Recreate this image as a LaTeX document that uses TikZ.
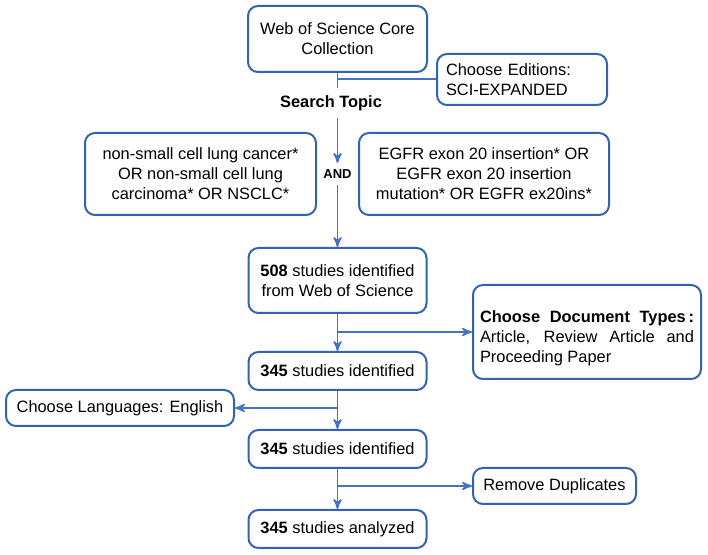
\documentclass[tikz,border=0pt]{standalone}
\usepackage{fontspec}
\setmainfont{Liberation Sans}
\usepackage{tikz}
\usetikzlibrary{arrows,positioning}
\definecolor{boxblue}{HTML}{3562AE}
\definecolor{lineblue}{HTML}{4472C4}

\begin{document}
\begin{tikzpicture}[x=0.5pt,y=-0.5pt,->,>=stealth',semithick]
	\tikzstyle{box}=[rectangle, rounded corners=5pt, draw=boxblue, line width=1pt, fill=white, text=black, inner sep=0pt, align=center, font=\fontsize{8.2}{10}\selectfont]
	\tikzstyle{every edge}=[draw=lineblue, line width=0.8pt]
	\useasboundingbox (0,0) rectangle (708,555);
	
	\node[box, minimum width=89.5pt, minimum height=33pt] (1) at (337.5,39) {Web of Science Core\\Collection};
	\node[box, minimum height=25.5pt, text width=76pt, inner xsep=4.5pt, align=left] (2) at (522,79.5) {Choose Editions:\\SCI-EXPANDED};
	\node[box, minimum width=115.5pt, minimum height=41pt] (4) at (200.5,174) {non-small cell lung cancer*\\OR non-small cell lung\\carcinoma* OR NSCLC*};
	\node[font=\fontsize{6.5}{8}\selectfont\bfseries, inner sep=3pt] (5) at (337.5,174) {AND};
	\node[box, minimum width=125pt, minimum height=41pt] (6) at (484,174) {EGFR exon 20 insertion* OR\\EGFR exon 20 insertion\\mutation* OR EGFR ex20ins*};
	\node[box, minimum width=89pt, minimum height=32.5pt] (7) at (337.5,280.5) {\textbf{508} studies identified\\from Web of Science};
	\node[box, minimum height=47pt, text width=107pt, inner xsep=3.5pt, align=justify] (8) at (587,332) {\rule{0pt}{12pt}\textbf{Choose Document Types\,:}\linebreak Article, Review Article and\linebreak Proceeding Paper};
	\node[box, minimum width=89pt, minimum height=19pt] (9) at (337.5,371) {\textbf{345} studies identified};
	\node[box, minimum width=114pt, minimum height=18pt] (10) at (120,408) {Choose Languages: English};
	\node[box, minimum width=89pt, minimum height=19pt] (11) at (337.5,449) {\textbf{345} studies identified};
	\node[box, minimum width=81.5pt, minimum height=18pt] (12) at (554.5,486) {Remove Duplicates};
	\node[box, minimum width=89pt, minimum height=19pt] (13) at (337.5,529) {\textbf{345} studies analyzed};
	
	\path (1) edge (5);
	\draw[-, lineblue, line width=1pt] (2.west -| 1.south) -- (2.west);
	\path (5) edge (7);
	\path (7) edge (9);
	\path (7.south |- 8.west) edge (8.west);
	\path (9) edge (11);
	\path (9.south |- 10.east) edge (10.east);
	\path (11) edge (13);
	\path (11.south |- 12.west) edge (12.west);
	
	% label sits on top of the line
	\node[fill=white, font=\fontsize{8.2}{10}\selectfont\bfseries, inner xsep=1pt, inner ysep=3.5pt] (3) at (331,103) {Search Topic};
	
\end{tikzpicture}
\end{document}
